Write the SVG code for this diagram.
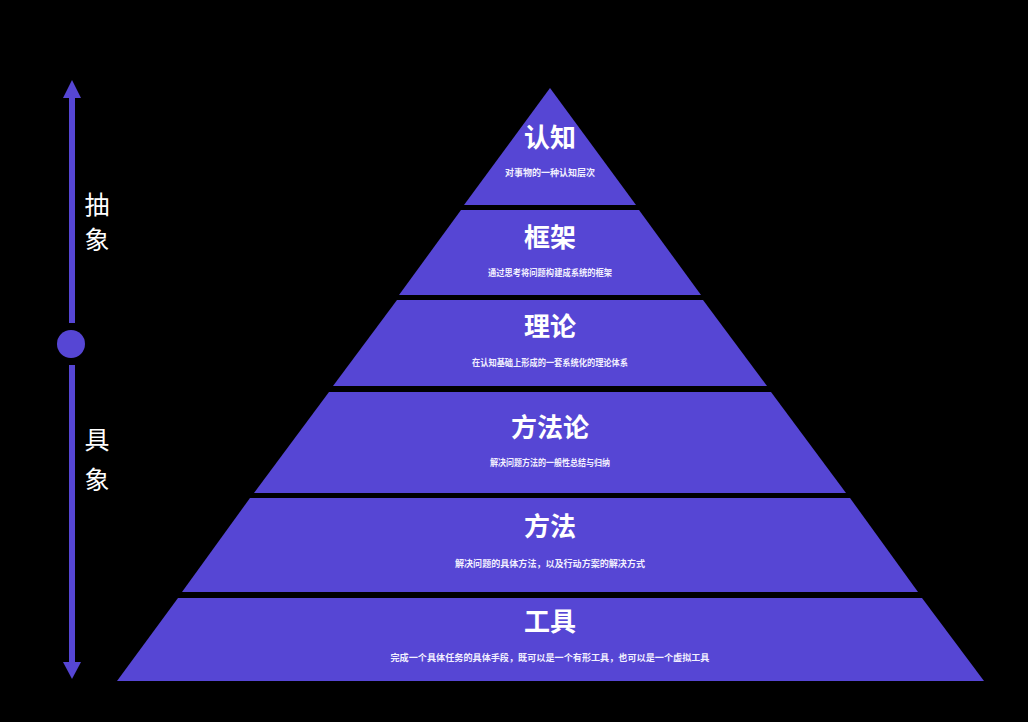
<svg xmlns="http://www.w3.org/2000/svg" width="1028" height="722" viewBox="0 0 1028 722">
<style>
.band{fill:#5646d4;}
.t{font-family:"Noto Sans CJK SC","Noto Sans",sans-serif;font-weight:bold;font-size:26px;fill:#ffffff;text-anchor:middle;}
.s{font-family:"Noto Sans CJK SC","Noto Sans",sans-serif;font-weight:bold;font-size:9px;fill:#f2f0ff;text-anchor:middle;}
.ax{font-family:"Noto Sans CJK SC","Noto Sans",sans-serif;font-size:25px;fill:#ffffff;text-anchor:middle;}
.axis{stroke:#5646d4;stroke-width:6;fill:none;}
.head{fill:#5646d4;}
</style>
<rect x="0" y="0" width="1028" height="722" fill="#000000"/>
<g id="axis">
<line class="axis" x1="72" y1="96" x2="72" y2="323"/>
<line class="axis" x1="72" y1="365" x2="72" y2="664"/>
<polygon class="head" points="72,80 63,98 81,98"/>
<polygon class="head" points="72,679 63,662 81,662"/>
<circle cx="71" cy="344" r="14" fill="#5646d4"/>
<text class="ax" x="97" y="214">抽</text>
<text class="ax" x="97" y="249">象</text>
<text class="ax" x="97" y="449">具</text>
<text class="ax" x="97" y="489">象</text>
</g>
<g id="level-cognition">
<polygon class="band" points="550,88 636,205 464,205"/>
<text class="t" x="550" y="147">认知</text>
<text class="s" x="550" y="176" textLength="90" lengthAdjust="spacingAndGlyphs">对事物的一种认知层次</text>
</g>
<g id="level-framework">
<polygon class="band" points="461,210 639,210 701,295 399,295"/>
<text class="t" x="550" y="247">框架</text>
<text class="s" x="550" y="276" textLength="124" lengthAdjust="spacingAndGlyphs">通过思考将问题构建成系统的框架</text>
</g>
<g id="level-theory">
<polygon class="band" points="397,300 703,300 767,386 333,386"/>
<text class="t" x="550" y="336">理论</text>
<text class="s" x="550" y="366" textLength="156" lengthAdjust="spacingAndGlyphs">在认知基础上形成的一套系统化的理论体系</text>
</g>
<g id="level-methodology">
<polygon class="band" points="329,392 771,392 846,493 254,493"/>
<text class="t" x="550" y="437">方法论</text>
<text class="s" x="550" y="466" textLength="120" lengthAdjust="spacingAndGlyphs">解决问题方法的一般性总结与归纳</text>
</g>
<g id="level-method">
<polygon class="band" points="250,498 850,498 918,592 182,592"/>
<text class="t" x="550" y="536">方法</text>
<text class="s" x="550" y="567" textLength="190" lengthAdjust="spacingAndGlyphs">解决问题的具体方法，以及行动方案的解决方式</text>
</g>
<g id="level-tool">
<polygon class="band" points="178,598 922,598 984,681 117,681"/>
<text class="t" x="550" y="631">工具</text>
<text class="s" x="550" y="661" textLength="319" lengthAdjust="spacingAndGlyphs">完成一个具体任务的具体手段，既可以是一个有形工具，也可以是一个虚拟工具</text>
</g>
</svg>
